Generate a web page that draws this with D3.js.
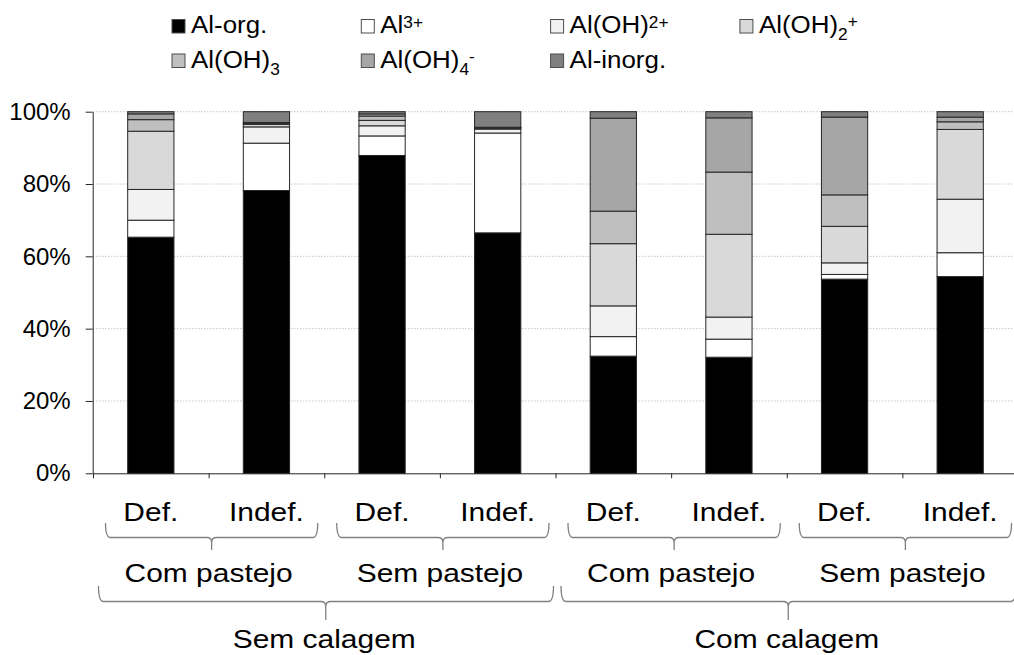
<!DOCTYPE html>
<html>
<head>
<meta charset="utf-8">
<script src="https://cdn.jsdelivr.net/npm/d3@7"></script>
<style>
  html, body { margin: 0; padding: 0; background: #fff; }
  svg { display: block; font-family: "Liberation Sans", Arial, Helvetica, sans-serif; }
</style>
</head>
<body>
<svg id="chart" width="1014" height="655"></svg>
<script>
// ---------- DATA ----------
const treatments = ["Def.", "Indef.", "Def.", "Indef.", "Def.", "Indef.", "Def.", "Indef."];
const grazing = ["Com pastejo", "Sem pastejo", "Com pastejo", "Sem pastejo"];
const liming = ["Sem calagem", "Com calagem"];

const alOrg    = [65.3, 78.2, 87.9, 66.5, 32.4, 32.1, 53.7, 54.4];
const al3      = [4.7, 13.1, 5.4, 27.6, 5.4, 5.0, 1.3, 6.6];
const alOH     = [8.5, 4.5, 2.8, 1.1, 8.5, 6.1, 3.2, 14.8];
const alOH2    = [16.1, 0.7, 1.5, 0.3, 17.2, 22.9, 10.1, 19.3];
const alOH3    = [3.2, 0.3, 1.2, 0.1, 9.0, 17.2, 8.7, 2.1];
const alOH4    = [1.6, 0.2, 0.6, 0.1, 25.7, 15.0, 21.5, 1.3];
const alInorg  = [0.6, 3.0, 0.6, 4.3, 1.8, 1.7, 1.5, 1.5];

const yTicks = [0, 20, 40, 60, 80, 100];

// series labels as rich-text parts: [text, "n"|"sup"|"sub"]
const seriesKeys = ["alOrg", "al3", "alOH", "alOH2", "alOH3", "alOH4", "alInorg"];
const seriesValues = [alOrg, al3, alOH, alOH2, alOH3, alOH4, alInorg];
const seriesLabels = [
  [["Al-org.", "n"]],
  [["Al", "n"], ["3+", "sup"]],
  [["Al(OH)", "n"], ["2+", "sup"]],
  [["Al(OH)", "n"], ["2", "sub"], ["+", "sup2"]],
  [["Al(OH)", "n"], ["3", "sub"]],
  [["Al(OH)", "n"], ["4", "sub"], ["-", "sup2"]],
  [["Al-inorg.", "n"]]
];
const seriesColors = ["#000000", "#ffffff", "#f2f2f2", "#d9d9d9", "#bfbfbf", "#a6a6a6", "#808080"];

// ---------- LAYOUT ----------
const svg = d3.select("#chart");
const plotLeft = 93, plotRight = 1018, yTop = 111.7, yBottom = 473.3;

const rows = treatments.map((t, i) => {
  const o = { idx: i };
  seriesKeys.forEach((k, j) => o[k] = seriesValues[j][i]);
  return o;
});

const x = d3.scaleBand().domain(d3.range(treatments.length))
  .range([plotLeft, plotRight]).paddingInner(0.6).paddingOuter(0.3);
const xb = d3.scaleLinear().domain([0, treatments.length]).range([plotLeft, plotRight]);
const y = d3.scaleLinear().domain([0, 100]).range([yBottom, yTop]);
const color = d3.scaleOrdinal().domain(seriesKeys).range(seriesColors);

// gridlines
svg.append("g").selectAll("line").data(yTicks.filter(d => d > 0)).join("line")
  .attr("x1", plotLeft).attr("x2", 1014)
  .attr("y1", d => y(d)).attr("y2", d => y(d))
  .attr("stroke", "#c8c8c8").attr("stroke-width", 1).attr("stroke-dasharray", "1.5,1.5");

// bars
const stack = d3.stack().keys(seriesKeys);
const stacked = stack(rows);
svg.append("g").selectAll("g").data(stacked).join("g")
  .attr("fill", d => color(d.key))
  .selectAll("rect").data(d => d).join("rect")
  .attr("x", d => x(d.data.idx))
  .attr("width", x.bandwidth())
  .attr("y", d => y(d[1]))
  .attr("height", d => y(d[0]) - y(d[1]))
  .attr("stroke", "#262626").attr("stroke-width", 1);

// y axis
const yAxis = svg.append("g").attr("transform", `translate(${plotLeft - 0.3},0)`)
  .call(d3.axisLeft(y).tickValues(yTicks).tickFormat(d => d + "%").tickSize(7).tickSizeOuter(0).tickPadding(15));
yAxis.select(".domain").attr("stroke", "#262626");
yAxis.selectAll(".tick line").attr("stroke", "#262626");
yAxis.selectAll(".tick text").attr("font-size", 24).attr("fill", "#000")
  .attr("font-family", "Liberation Sans, Arial, sans-serif");

// x axis (boundary ticks)
const xAxis = svg.append("g").attr("transform", `translate(0,${yBottom})`)
  .call(d3.axisBottom(xb).tickValues(d3.range(treatments.length + 1)).tickFormat("").tickSize(5).tickSizeOuter(0));
xAxis.select(".domain").attr("stroke", "#262626");
xAxis.selectAll(".tick line").attr("stroke", "#262626");

// stretched text helper
function stretchedText(g, txt, cx, baseY, size, sx) {
  return g.append("text")
    .attr("transform", `translate(${cx},${baseY}) scale(${sx},1)`)
    .attr("text-anchor", "middle").attr("font-size", size).attr("fill", "#000")
    .text(txt);
}

const lab = svg.append("g");
// level 1 labels
treatments.forEach((t, i) => {
  stretchedText(lab, t, x(i) + x.bandwidth() / 2, 520.5, 26.5, 1.13);
});
// brace helper
function brace(g, x0, x1, tx, yt, yh, ytip) {
  const r = 5;
  const p = d3.path();
  p.moveTo(x0, yt);
  p.quadraticCurveTo(x0, yh, x0 + r, yh);
  p.lineTo(tx - r, yh);
  p.quadraticCurveTo(tx, yh, tx, yh + r);
  p.lineTo(tx, ytip);
  p.moveTo(tx, yh + r);
  p.quadraticCurveTo(tx, yh, tx + r, yh);
  p.lineTo(x1 - r, yh);
  p.quadraticCurveTo(x1, yh, x1, yt);
  g.append("path").attr("d", p.toString()).attr("fill", "none")
    .attr("stroke", "#808080").attr("stroke-width", 1.3);
}
const br = svg.append("g");
grazing.forEach((gname, k) => {
  const a = xb(2 * k), b = xb(2 * k + 2);
  const x0 = a + 12.5, x1 = b - 6.5;
  brace(br, x0, x1, (x0 + x1) / 2, 523, 537.5, 550);
  stretchedText(lab, gname, (a + b) / 2, 581.5, 26.5, 1.13);
});
liming.forEach((lname, k) => {
  const a = xb(4 * k), b = xb(4 * k + 4);
  const x0 = a + 5.5, x1 = b - 2;
  brace(br, x0, x1, (a + b) / 2 + 1.5, 586, 601.5, 620);
  stretchedText(lab, lname, (a + b) / 2, 648, 26.5, 1.13);
});

// legend
const leg = svg.append("g");
const legX0 = 172, legColW = 189.3, legRowH = 34.5, legY0 = 19.5, perRow = 4;
seriesKeys.forEach((k, i) => {
  const col = i % perRow, row = Math.floor(i / perRow);
  const lx = legX0 + col * legColW, ly = legY0 + row * legRowH;
  leg.append("rect").attr("x", lx).attr("y", ly).attr("width", 13).attr("height", 13.5)
    .attr("fill", seriesColors[i]).attr("stroke", "#4d4d4d").attr("stroke-width", 1);
  const t = leg.append("text")
    .attr("transform", `translate(${lx + 19},${ly + 13.5}) scale(1.08,1)`)
    .attr("font-size", 24).attr("fill", "#000");
  let shift = 0;
  seriesLabels[i].forEach(([s, kind]) => {
    let target = 0, fs = 24;
    if (kind === "sup") { target = -5; fs = 16; }
    if (kind === "sub") { target = 7; fs = 16; }
    if (kind === "sup2") { target = -6; fs = 16; }
    t.append("tspan").attr("dy", target - shift).attr("font-size", fs).text(s);
    shift = target;
  });
});
</script>
</body>
</html>
